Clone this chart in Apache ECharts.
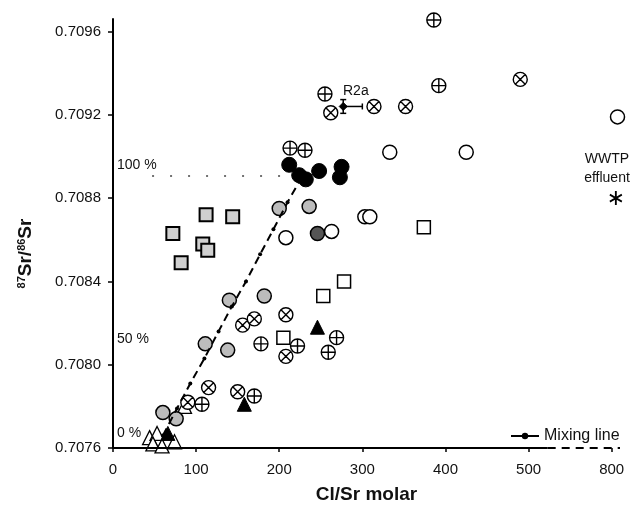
<!DOCTYPE html>
<html><head><meta charset="utf-8">
<script src="https://cdn.jsdelivr.net/npm/echarts@6/dist/echarts.min.js"></script>
<style>html,body{margin:0;padding:0;background:#fff}#c{width:643px;height:509px}</style>
</head><body><div id="c"></div>
<script>
// ---- tick labels ----
const xTicks = [0, 100, 200, 300, 400, 500, 800];
const yTicks = [0.7076, 0.7080, 0.7084, 0.7088, 0.7092, 0.7096];
// x axis is broken between 525 and 800
const xBreakFrom = 525, xBreakShift = 200;
const xMaxShown = 810, yMaxShown = 0.70966;

// ---- data [Cl/Sr molar, 87Sr/86Sr] ----
const circlePlus = [[255,0.70930],[386,0.709655],[392,0.70934],[213,0.70904],[231,0.70903],[178,0.70810],[222,0.70809],[269,0.70813],[259,0.70806],[170,0.70785],[107,0.70781]];
const circleCross = [[262,0.70921],[314,0.70924],[352,0.70924],[490,0.70937],[156,0.70819],[170,0.70822],[208,0.70824],[208,0.70804],[150,0.70787],[115,0.70789],[90,0.70782]];
const openCircle = [[807,0.70919],[333,0.70902],[425,0.70902],[208,0.70861],[303,0.70871],[309,0.70871],[263,0.70864]];
const filledCircle = [[212,0.70896],[224,0.70891],[232,0.70889],[248,0.70893],[275,0.70895],[273,0.70890]];
const stippledCircle = [[200,0.70875],[236,0.70876],[140,0.70831],[182,0.70833],[111,0.70810],[138,0.70807],[60,0.70777],[76,0.70774]];
const darkCircle = [[246,0.70863]];
const dottedSquare = [[112,0.70872],[144,0.70871],[72,0.70863],[108,0.70858],[114,0.70855],[82,0.70849]];
const openSquare = [[374,0.70866],[253,0.70833],[278,0.70840],[205,0.70813]];
const openTriangle = [[86,0.70780],[44,0.70765],[53,0.70767],[48,0.70762],[59,0.70761],[74,0.70763]];
const filledTriangle = [[66,0.70767],[158,0.70781],[246,0.70818]];
const wwtp = [[805,0.70880]];
const r2a = [[277,0.70924]];
const r2aErr = [[23,0.000033]]; // +x error, ±y error
const mixingLine = [[60,0.70766],[77,0.70779],[93,0.70791],[110,0.70803],[127,0.70816],[143,0.70828],[160,0.70840],[177,0.70853],[193,0.70865],[210,0.70878],[227,0.70890]];
const level100 = 0.708905;

const bx = v => v > xBreakFrom ? v - xBreakShift : v;
const pts = arr => arr.map(p => [bx(p[0]), p[1]]);
const xPos = xTicks.map(bx);

const CIRC = 'M10,0A10,10,0,1,1,-10,0A10,10,0,1,1,10,0Z';
const plusSym = 'path://' + CIRC + 'M-10,0L10,0M0,-10L0,10';
const crossSym = 'path://' + CIRC + 'M-7.07,-7.07L7.07,7.07M-7.07,7.07L7.07,-7.07';
const starSym = 'path://M0,-10L0,10M-8.66,-5L8.66,5M-8.66,5L8.66,-5';

function sc(data, symbol, size, fill, bw, z) {
  return {type:'scatter', data: pts(data), symbol, symbolSize: size, z: z || 2,
    itemStyle:{color: fill, borderColor:'#000', borderWidth: bw, opacity:1},
    emphasis:{disabled:true}, silent:true};
}

const chart = echarts.init(document.getElementById('c'), null, {renderer:'canvas'});
const FONT = 'Liberation Sans';
const TXT = '14px "Liberation Sans"';
chart.setOption({
  animation:false,
  backgroundColor:'#fff',
  textStyle:{fontFamily:FONT},
  grid:{left:113, right:23, top:19, bottom:56, containLabel:false},
  legend:{data:['Mixing line'], left:505, top:423, itemWidth:28, itemHeight:8,
    textStyle:{fontSize:16, color:'#111', fontFamily:FONT}, lineStyle:{type:'solid', width:2}},
  xAxis:{type:'value', min:0, max:bx(xMaxShown),
    name:'Cl/Sr molar', nameLocation:'middle', nameGap:37,
    nameTextStyle:{fontSize:19, fontWeight:'bold', color:'#111', fontFamily:FONT},
    axisLine:{show:false}, splitLine:{show:false},
    axisTick:{show:true, length:4, customValues:xPos, lineStyle:{color:'#000', width:1.5}},
    axisLabel:{customValues:xPos, margin:14, fontSize:15, color:'#111', fontFamily:FONT,
      formatter: v => { const i = xPos.findIndex(p => Math.abs(p - v) < 1e-6); return i >= 0 ? String(xTicks[i]) : ''; }}
  },
  yAxis:{type:'value', min:yTicks[0], max:yMaxShown,
    name:'{s|87}{b|Sr/}{s|86}{b|Sr}', nameLocation:'middle', nameGap:78, nameRotate:90,
    nameTextStyle:{padding:[0,40,0,0], rich:{s:{fontSize:11, fontWeight:'bold', verticalAlign:'top', color:'#111', fontFamily:FONT}, b:{fontSize:19, fontWeight:'bold', color:'#111', fontFamily:FONT}}},
    axisLine:{show:true, lineStyle:{color:'#000', width:2}}, splitLine:{show:false},
    axisTick:{show:true, length:5, customValues:yTicks, lineStyle:{color:'#000', width:1.5}},
    axisLabel:{customValues:yTicks, margin:12, fontSize:15, color:'#111', fontFamily:FONT, formatter: v => v.toFixed(4)}
  },
  graphic:[
    {type:'text', left:117, top:158, style:{text:'100 %', font:TXT, fill:'#111'}},
    {type:'text', left:117, top:332, style:{text:'50 %', font:TXT, fill:'#111'}},
    {type:'text', left:117, top:426, style:{text:'0 %', font:TXT, fill:'#111'}},
    {type:'text', left:343, top:84, style:{text:'R2a', font:TXT, fill:'#111'}},
    {type:'text', x:607, y:150, style:{text:'WWTP\neffluent', textAlign:'center', lineHeight:19, font:TXT, fill:'#111'}}
  ],
  series:[
    // axis line (solid then dashed across the break) and 100 % guide
    {type:'line', data:[], silent:true, markLine:{silent:true, symbol:['none','none'], label:{show:false}, animation:false,
      data:[
        [{coord:[0, yTicks[0]], lineStyle:{type:'solid', width:2, color:'#000'}}, {coord:[xBreakFrom - 2, yTicks[0]]}],
        [{coord:[xBreakFrom - 2, yTicks[0]], lineStyle:{type:[8,6], width:2, color:'#000'}}, {coord:[bx(xMaxShown), yTicks[0]]}],
        [{coord:[47, level100], lineStyle:{type:[2,16], width:1.5, color:'#444'}}, {coord:[218, level100]}]
      ]}},
    sc(openTriangle, 'triangle', 14, '#fff', 1.3, 2),
    sc(filledTriangle, 'triangle', 14, '#000', 1, 3),
    sc(dottedSquare, 'rect', 13, '#d0d0d0', 2, 2),
    sc(openSquare, 'rect', 13, '#fff', 1.5, 2),
    sc(openCircle, 'circle', 14, '#fff', 1.5, 2),
    sc(stippledCircle, 'circle', 14, '#bcbcbc', 1.5, 2),
    sc(darkCircle, 'circle', 14, '#555', 1.5, 2),
    sc(circlePlus, plusSym, 14, '#fff', 1.4, 3),
    sc(circleCross, crossSym, 14, '#fff', 1.4, 3),
    sc(filledCircle, 'circle', 15, '#000', 1, 4),
    sc(wwtp, starSym, [12,14], 'none', 2, 3),
    {type:'line', name:'Mixing line', data:mixingLine, symbol:'circle', symbolSize:4, showSymbol:true, z:5,
      lineStyle:{color:'#000', width:2, type:[8,5]}, itemStyle:{color:'#000'}, silent:true},
    {type:'custom', silent:true, z:5, data: r2a.map((p,i) => [p[0], p[1], r2aErr[i][0], r2aErr[i][1]]),
      renderItem:(params, api) => {
        const x = api.value(0), y = api.value(1), ex = api.value(2), ey = api.value(3);
        const p = api.coord([x,y]), pr = api.coord([x+ex,y]), pt = api.coord([x,y+ey]), pb = api.coord([x,y-ey]);
        const st = {stroke:'#000', lineWidth:1.5};
        return {type:'group', children:[
          {type:'line', shape:{x1:p[0], y1:p[1], x2:pr[0], y2:pr[1]}, style:st},
          {type:'line', shape:{x1:pr[0], y1:pr[1]-3, x2:pr[0], y2:pr[1]+3}, style:st},
          {type:'line', shape:{x1:pt[0], y1:pt[1], x2:pb[0], y2:pb[1]}, style:st},
          {type:'line', shape:{x1:pt[0]-3, y1:pt[1], x2:pt[0]+3, y2:pt[1]}, style:st},
          {type:'line', shape:{x1:pb[0]-3, y1:pb[1], x2:pb[0]+3, y2:pb[1]}, style:st}
        ]};
      }},
    sc(r2a, 'diamond', 8, '#000', 1, 6)
  ]
});
</script></body></html>
